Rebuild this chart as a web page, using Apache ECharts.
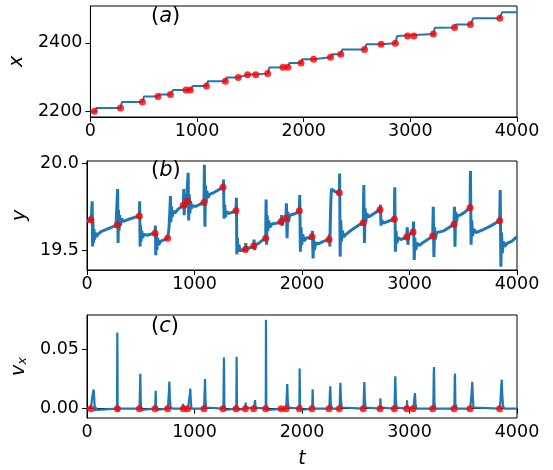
<!DOCTYPE html>
<html>
<head>
<meta charset="utf-8">
<script src="https://cdn.jsdelivr.net/npm/echarts@6/dist/echarts.min.js"></script>
<style>html,body{margin:0;padding:0;background:#fff;}#c{width:553px;height:470px;}</style>
</head>
<body>
<div id="c"></div>
<script>
// event times (red dots) and values on each panel
const eventT = [37, 282, 487, 633, 750, 896, 936, 1088, 1265, 1386, 1473, 1550, 1662, 1805, 1851, 1975, 2093, 2251, 2347, 2570, 2726, 2859, 2974, 3033, 3216, 3414, 3563, 3839];
const eventX = [2200, 2209, 2227, 2243, 2249, 2262, 2262, 2274, 2288, 2299, 2307, 2307, 2310, 2329, 2329, 2341, 2352, 2358, 2367, 2381, 2396, 2399, 2420, 2420, 2426, 2445, 2454, 2472];
const eventY = [19.672, 19.644, 19.695, 19.596, 19.567, 19.757, 19.78, 19.773, 19.86, 19.725, 19.503, 19.523, 19.567, 19.663, 19.682, 19.725, 19.576, 19.561, 19.829, 19.657, 19.732, 19.676, 19.575, 19.603, 19.58, 19.648, 19.743, 19.668];
const eventV = [0, 0, 0, 0, 0, 0, 0, 0, 0, 0, 0, 0, 0, 0, 0, 0, 0, 0, 0, 0, 0, 0, 0, 0, 0, 0, 0, 0];

// panel (a): x(t) staircase [t, x]
const xSeries = [[0,2198],[45,2199],[55,2209],[282,2209],[285,2211],[295,2227],[487,2227],[492,2229],[502,2243],[633,2243],[636,2244],[645,2249],[750,2249],[760,2251],[775,2262],[936,2262],[945,2264],[960,2274],[1088,2274],[1092,2276],[1102,2288],[1265,2288],[1268,2290],[1278,2299],[1386,2299],[1392,2304],[1473,2307],[1662,2310],[1667,2313],[1677,2328],[1851,2329],[1856,2332],[1866,2341],[1975,2341],[1978,2344],[1985,2352],[2093,2352],[2100,2355],[2251,2358],[2256,2360],[2268,2367],[2347,2367],[2352,2370],[2362,2381],[2570,2381],[2576,2384],[2588,2396],[2726,2396],[2732,2398],[2859,2399],[2864,2402],[2876,2420],[3216,2426],[3220,2428],[3230,2444],[3414,2445],[3418,2447],[3428,2454],[3563,2454],[3572,2458],[3590,2472],[3839,2472],[3846,2475],[3860,2490],[4000,2490]];

// panel (b): y(t) [t, y]
const ySeries = [[0,19.665],[20,19.668],[37,19.672],
[42,19.70],[48,19.78],[52,19.52],[56,19.66],[60,19.54],[65,19.62],[70,19.56],[78,19.60],[88,19.575],[100,19.59],[130,19.605],[170,19.615],[220,19.628],[270,19.64],[282,19.644],
[285,19.85],[289,19.54],[293,19.73],[298,19.61],[304,19.70],[312,19.64],[322,19.68],[340,19.665],[380,19.675],[430,19.685],[487,19.695],
[490,19.78],[494,19.52],[498,19.64],[503,19.55],[510,19.61],[518,19.57],[530,19.59],[560,19.585],[600,19.592],[633,19.596],
[636,19.64],[640,19.47],[645,19.60],[650,19.50],[657,19.57],[667,19.53],[685,19.55],[720,19.56],[750,19.567],
[755,19.56],[762,19.62],[770,19.71],[776,19.81],[781,19.66],[786,19.75],[792,19.69],[800,19.725],[815,19.71],[840,19.73],[870,19.745],[896,19.757],
[900,19.85],[904,19.70],[909,19.78],[915,19.745],[925,19.77],[936,19.78],
[941,19.944],[946,19.67],[951,19.82],[957,19.71],[964,19.78],[972,19.74],[985,19.755],[1010,19.75],[1050,19.762],[1088,19.773],
[1092,19.99],[1097,19.634],[1102,19.87],[1108,19.77],[1115,19.84],[1125,19.80],[1140,19.82],[1180,19.83],[1230,19.848],[1265,19.86],
[1270,19.905],[1275,19.68],[1281,19.76],[1288,19.69],[1298,19.72],[1320,19.71],[1355,19.718],[1386,19.725],
[1390,19.80],[1394,19.475],[1399,19.57],[1405,19.49],[1413,19.53],[1425,19.495],[1445,19.50],[1473,19.503],
[1477,19.54],[1482,19.49],[1490,19.515],[1510,19.51],[1550,19.523],
[1554,19.56],[1560,19.50],[1568,19.535],[1590,19.535],[1630,19.555],[1662,19.567],
[1666,19.79],[1671,19.53],[1676,19.70],[1682,19.61],[1690,19.67],[1700,19.63],[1720,19.65],[1770,19.655],[1805,19.663],
[1810,19.70],[1815,19.64],[1825,19.67],[1851,19.682],
[1855,19.768],[1861,19.567],[1867,19.72],[1874,19.66],[1885,19.70],[1900,19.695],[1940,19.71],[1975,19.725],
[1979,19.816],[1985,19.49],[1991,19.63],[1998,19.53],[2007,19.59],[2020,19.55],[2040,19.57],[2070,19.568],[2093,19.576],
[2097,19.61],[2103,19.452],[2109,19.56],[2116,19.50],[2127,19.54],[2150,19.535],[2200,19.55],[2251,19.561],
[2255,19.59],[2259,19.52],[2263,19.65],[2268,19.78],[2274,19.85],[2285,19.845],[2310,19.835],[2347,19.829],
[2350,19.94],[2355,19.462],[2361,19.67],[2368,19.55],[2376,19.61],[2388,19.575],[2410,19.59],[2460,19.615],[2520,19.64],[2570,19.657],
[2575,19.874],[2581,19.54],[2587,19.74],[2594,19.66],[2603,19.71],[2620,19.69],[2670,19.71],[2726,19.732],
[2730,19.76],[2735,19.64],[2742,19.67],[2760,19.655],[2800,19.665],[2859,19.676],
[2863,19.86],[2869,19.49],[2875,19.61],[2883,19.54],[2895,19.57],[2920,19.56],[2950,19.568],[2974,19.575],
[2979,19.63],[2985,19.53],[2992,19.585],[3005,19.585],[3033,19.603],
[3038,19.663],[3044,19.443],[3050,19.57],[3058,19.50],[3070,19.54],[3090,19.525],[3130,19.545],[3180,19.565],[3216,19.58],
[3221,19.749],[3227,19.46],[3233,19.63],[3240,19.56],[3252,19.60],[3270,19.59],[3320,19.61],[3375,19.632],[3414,19.648],
[3418,19.749],[3423,19.519],[3429,19.72],[3436,19.66],[3448,19.70],[3470,19.70],[3520,19.72],[3563,19.743],
[3567,19.954],[3573,19.53],[3579,19.67],[3587,19.58],[3598,19.62],[3620,19.60],[3680,19.615],[3760,19.64],[3839,19.668],
[3844,19.845],[3850,19.404],[3856,19.60],[3863,19.48],[3872,19.55],[3885,19.52],[3910,19.54],[3950,19.55],[4000,19.576]];

// panel (c): v_x(t) [t, v]
const vSeries = [[0,0],[30,0.0005],[37,0],[42,0.004],[48,0.009],[55,0.013],[62,0.016],[66,0.011],[70,0.004],[75,-0.002],[82,0.001],[95,-0.001],[110,0],
[275,0],[279,0.002],[282,0.0638],[285,0.003],[290,-0.002],[300,0.0005],[320,0],
[485,0],[490,0.004],[496,0.0293],[500,0.006],[505,-0.001],[520,0],
[630,0],[635,0.003],[639,0.015],[643,0.002],[650,-0.001],[665,0],
[748,0],[755,0.004],[762,0.014],[766,0.0228],[771,0.008],[778,0.001],[790,-0.0005],[800,0],
[890,0],[894,0.004],[898,0.001],[935,0],[945,0.004],[952,0.009],[957,0.012],[961,0.0169],[966,0.006],[972,0],[990,0],
[1085,0],[1091,0.005],[1098,0.0249],[1102,0.008],[1108,0.001],[1120,0],
[1262,0],[1269,0.003],[1274,0.0428],[1278,0.003],[1285,-0.001],[1300,0],
[1384,0],[1389,0.003],[1392,0.0435],[1395,0.002],[1402,-0.001],[1420,0],
[1472,0],[1476,0.0052],[1480,0.001],[1490,0],
[1552,0],[1557,0.003],[1563,0.0072],[1568,0.001],[1580,0],
[1660,0],[1663,0.004],[1665,0.0746],[1668,0.004],[1675,-0.001],[1690,0],
[1850,0],[1855,0.004],[1860,0.015],[1863,0.0207],[1868,0.006],[1875,0.001],[1890,0],
[1973,0],[1976,0.004],[1978,0.0337],[1982,0.004],[1990,-0.001],[2005,0],
[2092,0],[2096,0.004],[2099,0.0163],[2103,0.002],[2115,0],
[2250,0],[2256,0.004],[2260,0.014],[2263,0.0187],[2268,0.004],[2280,0],
[2346,0],[2351,0.004],[2355,0.016],[2357,0.0218],[2362,0.008],[2370,0.001],[2385,0],
[2568,0],[2573,0.004],[2578,0.018],[2580,0.0223],[2585,0.008],[2592,0.001],[2605,0],
[2724,0],[2727,0.003],[2729,0.0088],[2733,0.001],[2745,0],
[2857,0],[2862,0.005],[2866,0.024],[2868,0.0272],[2873,0.008],[2880,0.001],[2895,0],
[2972,0],[2975,0.002],[2977,0.007],[2980,0.001],[2990,0],
[3032,0],[3040,0.004],[3047,0.010],[3051,0.013],[3056,0.004],[3065,0],
[3215,0],[3222,0.004],[3226,0.03],[3228,0.035],[3232,0.005],[3240,0],
[3412,0],[3418,0.004],[3421,0.026],[3423,0.0295],[3427,0.004],[3440,0],
[3562,0],[3570,0.005],[3578,0.014],[3584,0.0225],[3589,0.010],[3595,0.001],[3610,0],
[3838,0],[3845,0.005],[3852,0.016],[3858,0.0243],[3863,0.012],[3870,0.002],[3885,0],
[4000,0]];

// tick labels
const tTicks = [0, 1000, 2000, 3000, 4000];
const xTicks = [2200, 2400];
const yTicks = [19.5, 20.0];
const vTicks = [0.00, 0.05];
const panelLabels = ['a', 'b', 'c'];

const FONT = 'DejaVu Sans';
const BLUE = '#1f77b4';

function zip(ts, vs) { return ts.map((t, i) => [t, vs[i]]); }

const gridBase = { left: 87, width: 430, show: true, borderColor: '#000', borderWidth: 1, backgroundColor: 'transparent' };
const grids = [
  Object.assign({ top: 6, height: 111 }, gridBase),
  Object.assign({ top: 161, height: 109 }, gridBase),
  Object.assign({ top: 315, height: 111 }, gridBase)
];

function xAx(i, withName) {
  const a = {
    type: 'value', gridIndex: i, min: tTicks[0], max: tTicks[tTicks.length - 1], interval: 1000,
    axisLine: { show: true, lineStyle: { color: '#000', width: 1 } },
    axisTick: { show: true, length: 5, lineStyle: { color: '#000' }, customValues: tTicks },
    axisLabel: { color: '#000', fontFamily: FONT, fontSize: 17.5, margin: 5, customValues: tTicks, formatter: v => String(v) },
    splitLine: { show: false }
  };
  if (withName) {
    a.name = 't';
    a.nameLocation = 'middle';
    a.nameGap = 32;
    a.nameTextStyle = { fontFamily: FONT, fontSize: 19, fontStyle: 'italic', color: '#000' };
  }
  return a;
}

function yAx(i, min, max, ticks, fmt, name, rich) {
  return {
    type: 'value', gridIndex: i, min: min, max: max,
    axisLine: { show: true, lineStyle: { color: '#000', width: 1 } },
    axisTick: { show: true, length: 5, lineStyle: { color: '#000' }, customValues: ticks },
    axisLabel: { color: '#000', fontFamily: FONT, fontSize: 17.5, margin: 8, customValues: ticks, formatter: fmt },
    splitLine: { show: false },
    name: name, nameLocation: 'middle', nameRotate: 90, nameGap: 57,
    nameTextStyle: Object.assign({ fontFamily: FONT, fontSize: 19, fontStyle: 'italic', color: '#000' }, rich ? { rich: rich } : {})
  };
}

const richPanel = {
  p: { fontFamily: FONT, fontSize: 21, fontWeight: 'normal', color: '#000' },
  i: { fontFamily: FONT, fontSize: 21, fontWeight: 'normal', fontStyle: 'italic', color: '#000' }
};
const titleTops = [6, 160, 316];

const option = {
  animation: false,
  backgroundColor: '#fff',
  title: panelLabels.map((l, k) => ({
    text: '{p|(}{i|' + l + '}{p|)}', left: 151, top: titleTops[k], padding: 0,
    textStyle: { fontWeight: 'normal', rich: richPanel }
  })),
  grid: grids,
  xAxis: [xAx(0, false), xAx(1, false), xAx(2, true)],
  yAxis: [
    yAx(0, 2183, 2508, xTicks, v => String(v), 'x'),
    yAx(1, 19.385, 20.0115, yTicks, v => v.toFixed(1), 'y'),
    yAx(2, -0.0078, 0.0785, vTicks, v => v.toFixed(2), '{v|v}{s|x}', {
      v: { fontFamily: FONT, fontSize: 19, fontStyle: 'italic', color: '#000' },
      s: { fontFamily: FONT, fontSize: 13, fontStyle: 'italic', color: '#000', verticalAlign: 'bottom', padding: [8, 0, 0, 0] }
    })
  ],
  series: [
    { type: 'line', xAxisIndex: 0, yAxisIndex: 0, data: xSeries, showSymbol: false, symbol: 'none',
      lineStyle: { color: BLUE, width: 2 }, z: 2 },
    { type: 'scatter', xAxisIndex: 0, yAxisIndex: 0, data: zip(eventT, eventX), symbolSize: 7,
      itemStyle: { color: '#ff0000' }, z: 3 },
    { type: 'line', xAxisIndex: 1, yAxisIndex: 1, data: ySeries, showSymbol: false, symbol: 'none',
      lineStyle: { color: BLUE, width: 3 }, z: 2 },
    { type: 'scatter', xAxisIndex: 1, yAxisIndex: 1, data: zip(eventT, eventY), symbolSize: 7,
      itemStyle: { color: '#ff0000' }, z: 3 },
    { type: 'line', xAxisIndex: 2, yAxisIndex: 2, data: vSeries, showSymbol: false, symbol: 'none',
      lineStyle: { color: BLUE, width: 2.2 }, z: 2 },
    { type: 'scatter', xAxisIndex: 2, yAxisIndex: 2, data: zip(eventT, eventV), symbolSize: 7,
      itemStyle: { color: '#ff0000' }, z: 3 }
  ]
};

const chart = echarts.init(document.getElementById('c'), null, { renderer: 'canvas' });
chart.setOption(option);
</script>
</body>
</html>
